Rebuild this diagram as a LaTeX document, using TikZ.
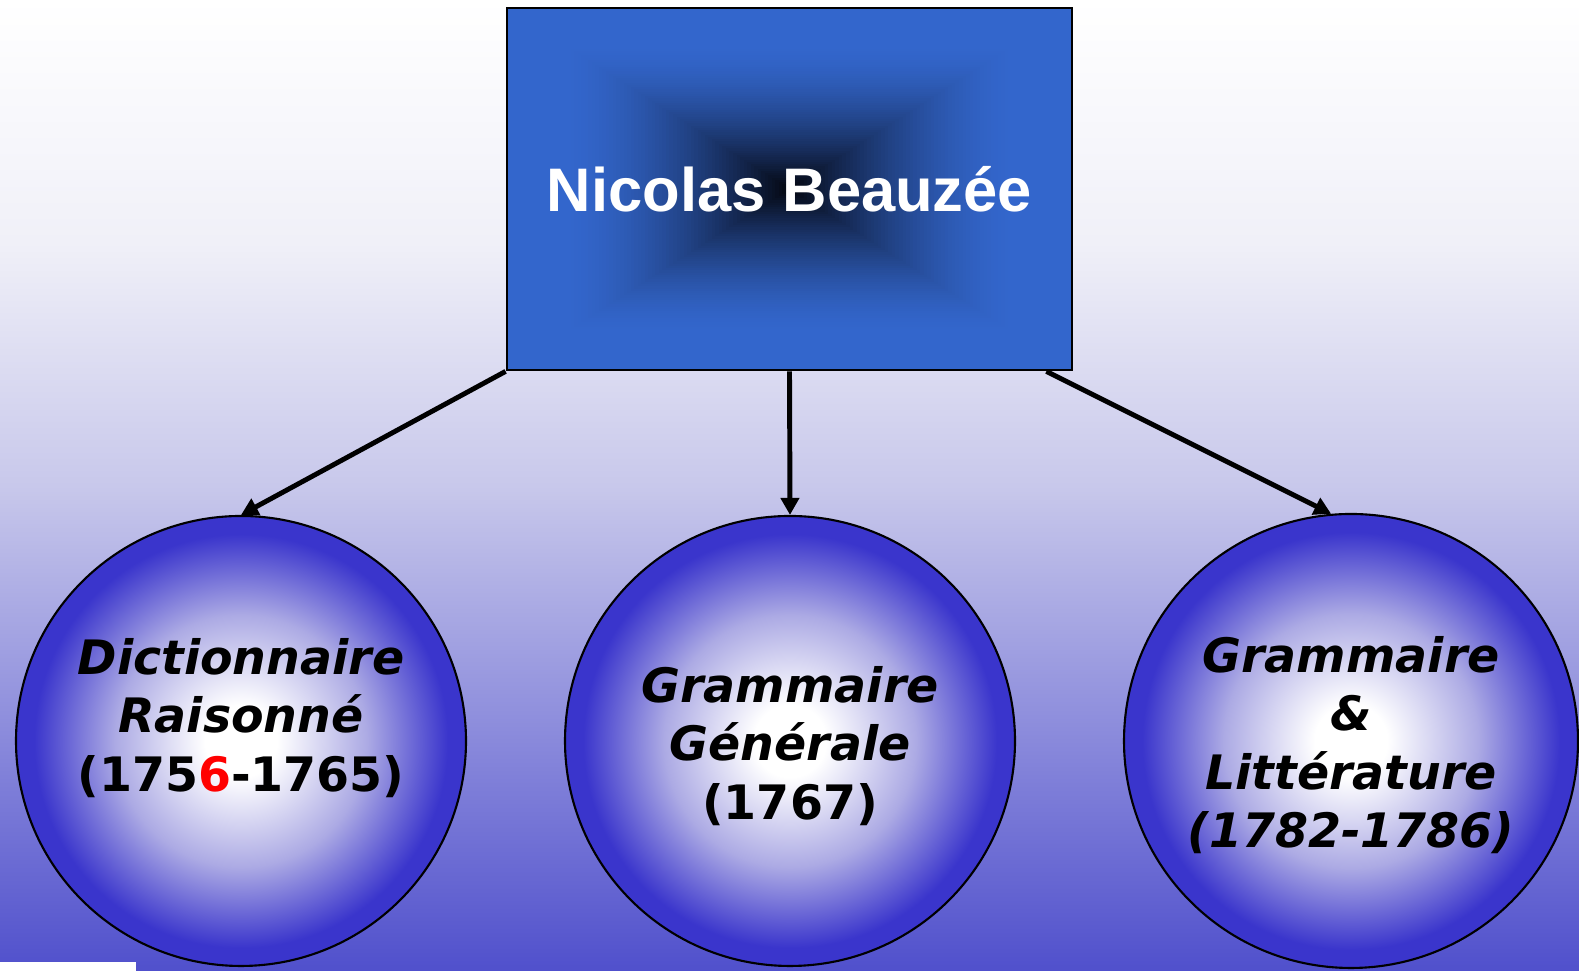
\documentclass[tikz,border=0pt]{standalone}
\usepackage{fontspec}
\setmainfont{DejaVu Sans}
\newfontfamily\titlefont{Liberation Sans}
\usetikzlibrary{positioning, arrows.meta, shapes, calc}
\definecolor{boxblue}{RGB}{51,102,204}
\definecolor{boxdark}{RGB}{3,6,14}
\definecolor{ballblue}{RGB}{58,53,204}
\definecolor{ballmid}{RGB}{172,170,228}
\definecolor{bgbottom}{RGB}{80,80,204}
\definecolor{bgqa}{RGB}{140,140,220}
\definecolor{bgqb}{RGB}{200,200,235}
\definecolor{bgqc}{RGB}{240,240,248}
\definecolor{yearred}{RGB}{255,0,0}

% fond degrade vertical et boules
\pgfdeclareverticalshading{pagebg}{100bp}{color(0bp)=(bgbottom); color(25bp)=(bgbottom);
  color(37.5bp)=(bgqa); color(50bp)=(bgqb); color(62.5bp)=(bgqc); color(75bp)=(white); color(100bp)=(white)}
\pgfdeclareradialshading{ballshade}{\pgfpoint{0bp}{0bp}}{color(0bp)=(white); color(4bp)=(white);
  color(14bp)=(ballmid); color(23bp)=(ballblue); color(25bp)=(ballblue); color(50bp)=(ballblue)}

\tikzset{
  titlebox/.style={draw=black, line width=0.8pt, minimum width=5.65cm, minimum height=3.62cm,
    text=white, font=\titlefont\bfseries\fontsize{17.5}{20}\selectfont},
  ballnode/.style={circle, draw=black, line width=0.6pt, shading=ballshade, minimum size=4.5cm, inner sep=0pt},
  booktext/.style={align=center, font=\fontsize{13.5}{16.6}\selectfont\bfseries},
  link/.style={-{Triangle[length=1.7mm, width=1.8mm]}, line width=1.4pt}
}

\begin{document}
\begin{tikzpicture}
        \useasboundingbox (0,0) rectangle (15.79,9.71);
        \shade[shading=pagebg] (0,0) rectangle (15.79,9.71);

        % Cadre central avec degrade sombre
        \coordinate (mid) at (7.895,7.82);
        \foreach \i in {0,...,80}{
            \pgfmathsetmacro\sc{1-\i/80}
            \pgfmathsetmacro\pc{100*(1-(max(0,(0.8-\sc)/0.8))^1.6)}
            \fill[boxblue!\pc!boxdark] ($(mid)+(-2.825*\sc,-1.81*\sc)$) rectangle ($(mid)+(2.825*\sc,1.81*\sc)$);
        }
        \node[titlebox] (top) at (mid) {Nicolas Beauzée};

        % Les trois ouvrages
        \node[ballnode] (c1) at (2.41,2.30) {};
        \node[booktext] (t1) at ([yshift=2.3mm]c1.center)
            {\textit{Dictionnaire}\\\textit{Raisonné}\\(175\textcolor{yearred}{6}-1765)};
        \draw[link] (top.south west) -- (c1.north);

        \node[ballnode] (c2) at (7.90,2.30) {};
        \node[booktext] (t2) at ([yshift=-0.5mm]c2.center)
            {\textit{Grammaire}\\\textit{Générale}\\(1767)};
        \draw[link] (top.south) -- (c2.north);

        \node[ballnode, minimum size=4.54cm] (c3) at (13.51,2.30) {};
        \node[booktext] (t3) at ([yshift=-0.4mm]c3.center)
            {\textit{Grammaire}\\\textit{\&}\\\textit{Littérature}\\\textit{(1782-1786)}};
        \draw[link] ([xshift=-2.7mm]top.south east) -- (c3.95);

        \fill[white] (0,0) rectangle (1.36,0.09);
\end{tikzpicture}
\end{document}
